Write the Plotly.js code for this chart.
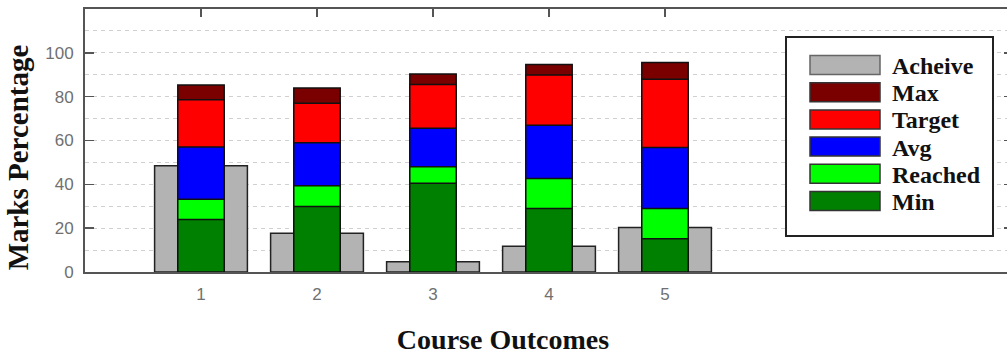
<!DOCTYPE html>
<html>
<head>
<meta charset="utf-8">
<script src="https://cdn.plot.ly/plotly-3.0.1.min.js"></script>
<style>
html, body { margin: 0; padding: 0; overflow: hidden; background: #fff; }
#chart { width: 1016px; height: 354px; }
</style>
</head>
<body>
<div id="chart"></div>
<script>
// ---- data ----
const categories = ['1', '2', '3', '4', '5'];
const seriesNames = ['Acheive', 'Max', 'Target', 'Avg', 'Reached', 'Min'];
const acheive = [48.5, 17.7, 4.7, 11.7, 20.3];
const maxVals = [85.3, 84.0, 90.3, 94.7, 95.6];
const targetVals = [78.6, 77.0, 85.6, 89.9, 88.0];
const avgVals = [57.0, 59.0, 65.6, 67.0, 56.8];
const reachedVals = [33.2, 39.3, 48.0, 42.7, 29.0];
const minVals = [24.0, 29.9, 40.5, 29.0, 15.2];
const yTickVals = [0, 20, 40, 60, 80, 100];
const yMinorVals = [10, 30, 50, 70, 90, 110];
const xTitle = 'Course Outcomes';
const yTitle = 'Marks Percentage';

// ---- styles ----
const colors = ['#b3b3b3', '#7a0000', '#ff0000', '#0000ff', '#00ff00', '#008000'];
const values = [acheive, maxVals, targetVals, avgVals, reachedVals, minVals];
const widths = [0.8, 0.4, 0.4, 0.4, 0.4, 0.4];

const traces = values.map((v, i) => ({
  type: 'bar',
  x: categories,
  y: v,
  name: seriesNames[i],
  width: widths[i],
  marker: { color: colors[i], line: { color: i === 0 ? '#222' : '#111', width: 1.5 } },
  showlegend: false
}));

// plot area geometry (px) for placing the legend box
const L = 85, R = 3, T = 9, B = 82, W = 1016, H = 354;
const pw = W - L - R, ph = H - T - B;
const px = x => (x - L) / pw;
const py = y => (H - B - y) / ph;

const shapes = [];
const annotations = [];
shapes.push({ type: 'rect', xref: 'paper', yref: 'paper',
  x0: px(786), x1: px(993), y0: py(236), y1: py(37),
  fillcolor: '#ffffff', line: { color: '#222', width: 2 }, layer: 'above' });
const rowStart = 65, rowStep = 27.2;
seriesNames.forEach((n, i) => {
  const cy = rowStart + i * rowStep;
  shapes.push({ type: 'rect', xref: 'paper', yref: 'paper',
    x0: px(810), x1: px(880), y0: py(cy + 9.5), y1: py(cy - 9.5),
    fillcolor: colors[i], line: { color: i === 0 ? '#666' : '#333', width: 1.5 }, layer: 'above' });
  annotations.push({ xref: 'paper', yref: 'paper', x: px(890), y: py(cy + 1),
    xanchor: 'left', yanchor: 'middle', showarrow: false, text: n,
    font: { family: 'Liberation Serif', size: 24, color: '#111', weight: 'bold' } });
});

const titleFont = { family: 'Liberation Serif', size: 28, color: '#111', weight: 'bold' };

const layout = {
  width: W, height: H,
  margin: { l: L, r: R, t: T, b: B },
  paper_bgcolor: '#fff', plot_bgcolor: '#fff',
  barmode: 'overlay',
  showlegend: false,
  xaxis: {
    type: 'category',
    range: [-1, 7],
    tickvals: categories,
    ticks: 'inside', ticklen: 8, tickcolor: '#555', tickwidth: 1.5,
    showline: true, linecolor: '#555', linewidth: 2, mirror: 'ticks',
    showgrid: false, zeroline: false,
    layer: 'below traces',
    tickfont: { family: 'Liberation Sans', size: 17, color: '#707070' },
    ticklabelstandoff: 6,
    title: { text: xTitle, standoff: 26, font: titleFont }
  },
  yaxis: {
    range: [0, 120],
    tickmode: 'array', tickvals: yTickVals,
    ticks: 'inside', ticklen: 9, tickcolor: '#555', tickwidth: 1.5,
    showline: true, linecolor: '#555', linewidth: 2, mirror: 'ticks',
    showgrid: true, gridcolor: '#d0d0d0', gridwidth: 1, griddash: '4px,4px',
    minor: { tickmode: 'array', tickvals: yMinorVals, showgrid: true,
      gridcolor: '#d0d0d0', gridwidth: 1, griddash: '4px,4px' },
    zeroline: false,
    tickfont: { family: 'Liberation Sans', size: 17, color: '#707070' },
    ticklabelstandoff: 6,
    title: { text: yTitle, standoff: 8, font: { family: 'Liberation Serif', size: 29, color: '#111', weight: 'bold' } }
  },
  shapes: shapes,
  annotations: annotations
};

// the reference's axis titles sit off-centre relative to the plot area
const xTitleShift = -46, yTitleShift = 17;

Plotly.newPlot('chart', traces, layout, { staticPlot: true, displayModeBar: false }).then(gd => {
  const gx = gd.querySelector('.g-xtitle');
  const gy = gd.querySelector('.g-ytitle');
  if (gx) gx.setAttribute('transform', 'translate(' + xTitleShift + ',0)');
  if (gy) gy.setAttribute('transform', 'translate(0,' + yTitleShift + ')');
});
</script>
</body>
</html>
